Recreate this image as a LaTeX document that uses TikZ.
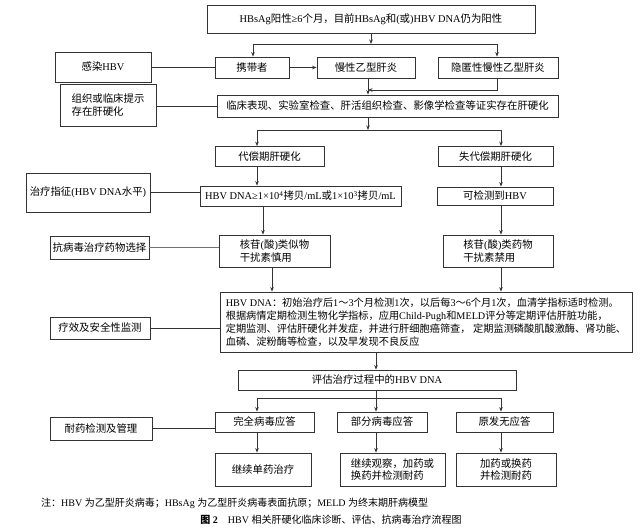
\documentclass[tikz,border=0pt]{standalone}
\usepackage{fontspec}
\usetikzlibrary{arrows.meta}
\setmainfont{Liberation Serif}
\newfontfamily\cjkf{Noto Sans CJK SC}
\newfontfamily\latf{Liberation Serif}
\XeTeXinterchartokenstate=1
\newXeTeXintercharclass\CJKcls
\newcount\mycnt
\mycnt="3000 \loop\XeTeXcharclass\mycnt=\CJKcls\relax\ifnum\mycnt<"303F \advance\mycnt by 1 \repeat
\mycnt="4E00 \loop\XeTeXcharclass\mycnt=\CJKcls\relax\ifnum\mycnt<"9FFF \advance\mycnt by 1 \repeat
\mycnt="FF00 \loop\XeTeXcharclass\mycnt=\CJKcls\relax\ifnum\mycnt<"FFEF \advance\mycnt by 1 \repeat
\XeTeXinterchartoks 0 \CJKcls = {\cjkf}
\XeTeXinterchartoks 4095 \CJKcls = {\cjkf}
\XeTeXinterchartoks \CJKcls 0 = {\latf}
\XeTeXinterchartoks \CJKcls 4095 = {\latf}
\tikzset{
  bx/.style={draw=black!80, line width=0.8pt, inner sep=0pt, fill=white,
    font=\fontsize{10.4}{12.5}\selectfont, align=center},
  sz/.style 2 args={minimum width=#1pt, minimum height=#2pt},
  ln/.style={draw=black!80, line width=0.8pt},
  arr/.style={ln, -{Stealth[length=4.5pt,width=3.5pt]}},
  lite/.style={draw=black!55, line width=0.6pt}
}
\begin{document}
\begin{tikzpicture}[x=1pt,y=-1pt]
\useasboundingbox (0,0) rectangle (640,529);
\fill[white] (0,0) rectangle (640,529);
% nodes
\node[bx, sz={328}{28}] (top) at (371,19) {HBsAg阳性≥6个月，目前HBsAg和(或)HBV DNA仍为阳性};
\node[bx, sz={96}{30}] (infect) at (103,67) {感染HBV};
\node[bx, sz={74}{21}] (carrier) at (252,67.5) {携带者};
\node[bx, sz={98}{21}] (chb) at (366,67.5) {慢性乙型肝炎};
\node[bx, sz={120}{21}] (occult) at (498,67.5) {隐匿性慢性乙型肝炎};
\node[bx, sz={96}{42}, align=left] (tissue) at (108,105) {组织或临床提示\\存在肝硬化};
\node[bx, sz={341}{22}] (clinical) at (387.5,106) {临床表现、实验室检查、肝活组织检查、影像学检查等证实存在肝硬化};
\node[bx, sz={109}{20}] (comp) at (269.5,156.5) {代偿期肝硬化};
\node[bx, sz={115}{20}] (decomp) at (495.5,156.5) {失代偿期肝硬化};
\node[bx, sz={124}{39}] (indic) at (88,192.5) {治疗指征(HBV DNA水平)};
\node[bx, sz={201}{20}] (dna) at (300.5,196) {HBV DNA≥1×10\textsuperscript{4}拷贝/mL或1×10\textsuperscript{3}拷贝/mL};
\node[bx, sz={116}{18}] (detect) at (495,196) {可检测到HBV};
\node[bx, sz={99}{23}] (antiv) at (99.5,247.5) {抗病毒治疗药物选择};
\node[bx, sz={111}{32}, align=left] (nuc1) at (274.5,251) {核苷(酸)类似物\\干扰素慎用};
\node[bx, sz={110}{32}, align=left] (nuc2) at (498,251) {核苷(酸)类药物\\干扰素禁用};
\node[bx, sz={100}{22}] (effic) at (100,328) {疗效及安全性监测};
\node[bx, sz={412}{60}, align=left, font=\fontsize{10.2}{13}\selectfont] (big) at (426,322) {HBV DNA：初始治疗后1～3个月检测1次，以后每3～6个月1次，血清学指标适时检测。\\根据病情定期检测生物化学指标，应用Child-Pugh和MELD评分等定期评估肝脏功能，\\定期监测、评估肝硬化并发症，并进行肝细胞癌筛查， 定期监测磷酸肌酸激酶、肾功能、\\血磷、淀粉酶等检查，以及早发现不良反应};
\node[bx, sz={278}{20}] (eval) at (377,380) {评估治疗过程中的HBV DNA};
\node[bx, sz={102}{23}] (resist) at (101,428.5) {耐药检测及管理};
\node[bx, sz={99}{20}] (full) at (264.5,422) {完全病毒应答};
\node[bx, sz={90}{20}] (part) at (382,422) {部分病毒应答};
\node[bx, sz={97}{20}] (none) at (504.5,422) {原发无应答};
\node[bx, sz={96}{33}] (cont) at (263,469.5) {继续单药治疗};
\node[bx, sz={105}{33}, align=left] (obs) at (392.5,469.5) {继续观察，加药或\\换药并检测耐药};
\node[bx, sz={100}{33}] (add) at (506,469.5) {加药或换药\\并检测耐药};
\node[anchor=west, inner sep=0pt, font=\fontsize{10}{11}\selectfont] (note) at (41,503) {注：HBV 为乙型肝炎病毒；HBsAg 为乙型肝炎病毒表面抗原；MELD 为终末期肝病模型};
\node[inner sep=0pt, font=\fontsize{10}{11}\selectfont] (cap) at (331,520) {\textbf{图 2}\quad HBV 相关肝硬化临床诊断、评估、抗病毒治疗流程图};
% coordinates
\coordinate (s1) at (371,44);
\coordinate (s1l) at (253,44);
\coordinate (s1r) at (497,44);
\coordinate (j1) at (368,90);
\coordinate (c368) at (368,0);
\coordinate (s2) at (368,130);
\coordinate (s2l) at (257,130);
\coordinate (s2r) at (501,130);
\coordinate (c263) at (263,0);
\coordinate (c272) at (272,0);
\coordinate (c376) at (376,0);
\coordinate (s3) at (376,398);
\coordinate (s3l) at (257,398);
\coordinate (s3r) at (501,398);
% connectors
\draw[arr] (top.south) -- (s1);
\draw[ln] (s1l) -- (s1r);
\draw[arr] (s1l) -- (s1l |- carrier.north);
\draw[arr] (s1r) -- (s1r |- occult.north);
\draw[ln] (infect.east) -- (infect.east -| carrier.west);
\draw[arr] (carrier) -- (chb);
\draw[arr] (c368 |- chb.south) -- (c368 |- clinical.north);
\draw[arr] (s1r |- occult.south) |- (j1);
\draw[ln] (clinical.west) -- (clinical.west -| tissue.east);
\draw[arr] (s2 |- clinical.south) -- (s2);
\draw[ln] (s2l) -- (s2r);
\draw[arr] (s2l) -- (s2l |- comp.north);
\draw[arr] (s2r) -- (s2r |- decomp.north);
\draw[arr] (s2l |- comp.south) -- (s2l |- dna.north);
\draw[arr] (s2r |- decomp.south) -- (s2r |- detect.north);
\draw[ln] (indic.east) -- (indic.east -| dna.west);
\draw[arr] (c263 |- dna.south) -- (c263 |- nuc1.north);
\draw[arr] (s2r |- detect.south) -- (s2r |- nuc2.north);
\draw[lite] (antiv.east) -- (antiv.east -| nuc1.west);
\draw[arr] (c272 |- nuc1.south) -- (c272 |- big.north);
\draw[arr] (s2r |- nuc2.south) -- (s2r |- big.north);
\draw[ln] (effic.east) -- (effic.east -| big.west);
\draw[arr] (c376 |- big.south) -- (c376 |- eval.north);
\draw[arr] (s3 |- eval.south) -- (s3 |- part.north);
\draw[ln] (s3l) -- (s3r);
\draw[arr] (s3l) -- (s3l |- full.north);
\draw[arr] (s3r) -- (s3r |- none.north);
\draw[ln] (resist.east) -- (resist.east -| full.west);
\draw[arr] (s3l |- full.south) -- (s3l |- cont.north);
\draw[arr] (s3 |- part.south) -- (s3 |- obs.north);
\draw[arr] (s3r |- none.south) -- (s3r |- add.north);
\end{tikzpicture}
\end{document}
